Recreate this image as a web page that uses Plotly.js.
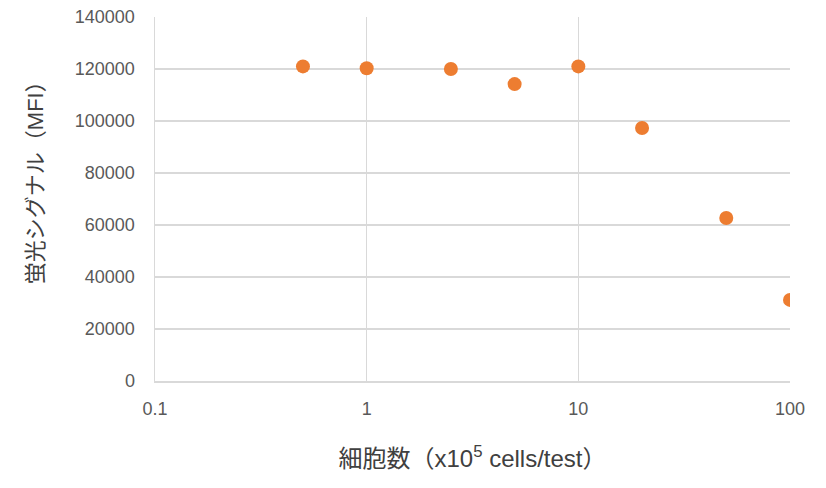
<!DOCTYPE html>
<html>
<head>
<meta charset="utf-8">
<script src="https://cdn.plot.ly/plotly-3.0.1.min.js"></script>
<style>
  html, body { margin: 0; padding: 0; background: #fff; }
  #chart { width: 826px; height: 488px; }
</style>
</head>
<body>
<div id="chart"></div>
<script>
// cell count (x10^5 cells/test) and fluorescence signal (MFI)
var cellCounts = [0.5, 1, 2.5, 5, 10, 20, 50, 100];
var mfiValues = [121000, 120300, 120000, 114200, 121000, 97300, 62700, 31200];
var yTicks = [0, 20000, 40000, 60000, 80000, 100000, 120000, 140000];

var fontFamily = 'Liberation Sans, Arial, Noto Sans CJK JP, sans-serif';

var trace = {
  x: cellCounts,
  y: mfiValues,
  type: 'scatter',
  mode: 'markers',
  marker: { color: '#ED7D31', size: 14 },
  hoverinfo: 'x+y'
};

var layout = {
  width: 826,
  height: 488,
  margin: { t: 17, b: 107, l: 155, r: 36 },
  paper_bgcolor: '#fff',
  plot_bgcolor: '#fff',
  showlegend: false,
  font: { family: fontFamily, color: '#595959', size: 18 },
  xaxis: {
    type: 'log',
    range: [-1, 2],
    dtick: 1,
    showgrid: true,
    gridcolor: '#d9d9d9',
    gridwidth: 1.5,
    showline: true,
    linecolor: '#d9d9d9',
    linewidth: 1.5,
    zeroline: false,
    ticks: '',
    ticklabelstandoff: 11,
    tickfont: { size: 18, color: '#595959' },
    title: {
      text: '細胞数（x10<sup>5</sup> cells/test）',
      font: { size: 24, color: '#404040' },
      standoff: 32
    }
  },
  yaxis: {
    range: [0, 140000],
    tickvals: yTicks,
    tickformat: 'd',
    showgrid: true,
    gridcolor: '#d9d9d9',
    gridwidth: 1.5,
    showline: true,
    linecolor: '#d9d9d9',
    linewidth: 1.5,
    zeroline: false,
    ticks: '',
    ticklabelstandoff: 15,
    tickfont: { size: 18, color: '#595959' }
  },
  annotations: [{
    text: '蛍光シグナル（MFI）',
    textangle: -90,
    xref: 'paper',
    yref: 'paper',
    x: 0,
    y: 0.56,
    xanchor: 'center',
    yanchor: 'middle',
    xshift: -120,
    showarrow: false,
    font: { family: fontFamily, size: 22, color: '#404040' }
  }]
};

Plotly.newPlot('chart', [trace], layout, { displayModeBar: false, staticPlot: true });
</script>
</body>
</html>
